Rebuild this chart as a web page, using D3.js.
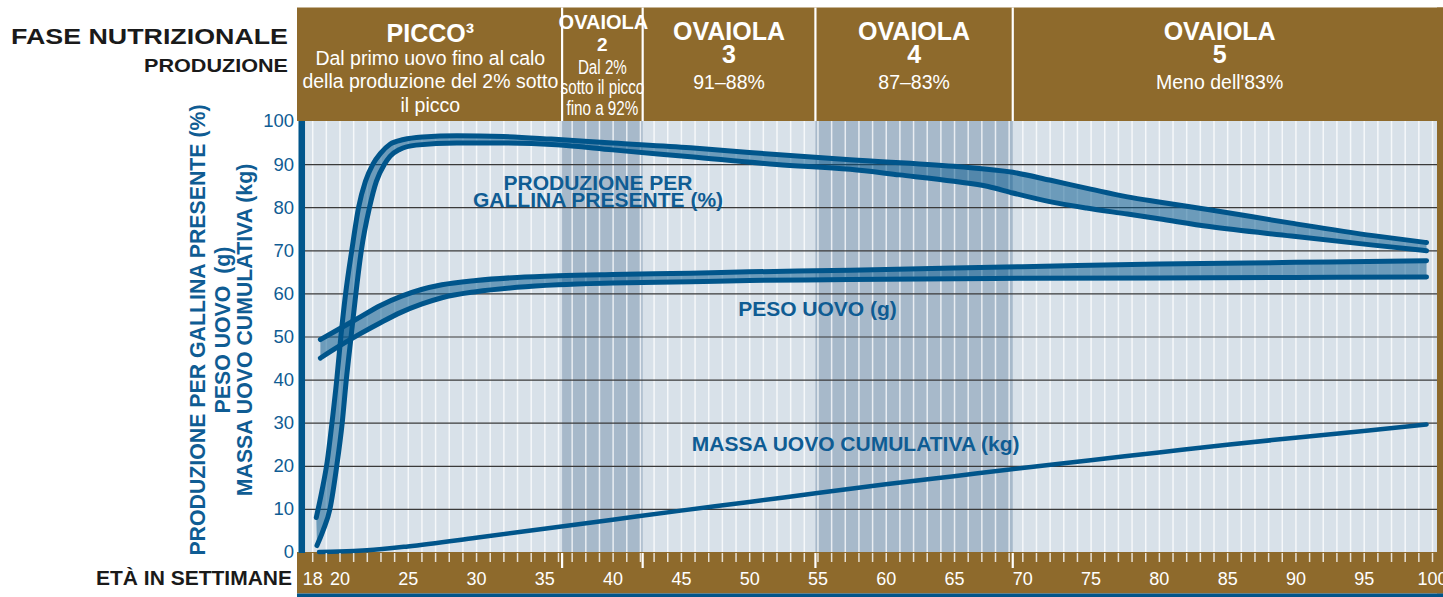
<!DOCTYPE html>
<html>
<head>
<meta charset="utf-8">
<script src="https://cdn.jsdelivr.net/npm/d3@7"></script>
<style>
  body { margin: 0; background: #fff; }
  svg { display: block; }
  text { font-family: "Liberation Sans", Arial, Helvetica, sans-serif; }
</style>
</head>
<body>
<svg id="chart" width="1443" height="597"></svg>
<script>
// ---------------- DATA ----------------
// Production per hen housed (%), upper and lower limits: [week, %]
const productionUpper = [[18.3,8],[18.7,14],[19.1,21],[19.45,30],[19.8,40],[20.1,50],[20.45,60],[20.9,70],[21.4,80],[21.9,86],[22.45,90],[23.0,92.5],[23.7,94.6],[24.7,95.7],[26.1,96.3],[28.6,96.6],[32,96.4],[35.5,95.8],[40,94.9],[45.7,93.8],[50,92.7],[57.4,91.0],[65,89.5],[69.3,88.1],[72,86.3],[75,84.2],[77.7,82.4],[80,81.2],[83.7,79.4],[89.7,76.3],[95.7,73.4],[99.6,71.8]];
const productionLower = [[18.35,1.5],[18.8,5],[19.3,10],[19.8,20],[20.2,30],[20.5,40],[20.85,50],[21.2,60],[21.6,70],[22.2,80],[22.7,86],[23.3,90],[23.7,91.8],[24.4,93.4],[25.6,94.4],[28.6,94.9],[32,94.9],[35.9,94.5],[40,93.3],[45.7,91.7],[52,89.9],[57.4,88.8],[61,87.5],[65,86],[67.5,84.8],[69.3,83.3],[72,81.3],[74.7,79.8],[77.7,78.4],[80,77.3],[83.7,75.5],[89.7,73.3],[95.7,71.2],[99.6,69.9]];
// Egg weight (g), upper and lower limits
const eggWeightUpper = [[18.6,49.3],[20,51.8],[21.5,54.5],[23,57.2],[24.5,59.3],[26,60.9],[27.5,62],[30,63],[33,63.7],[36,64.1],[40,64.4],[45.7,64.7],[50,65],[57.4,65.4],[65,65.9],[70,66.2],[80,66.8],[90,67.2],[99.6,67.6]];
const eggWeightLower = [[18.6,45],[20,47.8],[21.5,50.6],[23,53.2],[24.5,55.6],[26,57.5],[27.5,59],[30,60.4],[33,61.4],[36,62],[40,62.4],[45.7,62.7],[50,63],[57.4,63.2],[65,63.4],[70,63.5],[80,63.6],[90,63.7],[99.6,63.8]];
// Cumulative egg mass (kg)
const eggMass = [[18.5,0],[20,0.1],[22,0.4],[25,1.3],[30,3.3],[35,5.4],[40,7.5],[45,9.6],[50,11.6],[55,13.7],[60,15.7],[65,17.6],[70,19.5],[75,21.3],[80,23.1],[85,24.9],[90,26.5],[95,28.1],[99.6,29.6]];

// Axes
const xTickValues = [18,20,25,30,35,40,45,50,55,60,65,70,75,80,85,90,95,100];
const weekLines = d3.range(18, 101);
const yTickValues = [0,10,20,30,40,50,60,70,80,90,100];
const yGridValues = [10,20,30,40,50,60,70,80,90];

// Nutritional phases (week boundaries)
const phaseBounds = [17, 36.3, 42.2, 54.85, 69.3, 99.6];
const phaseTitles = ["PICCO³", "OVAIOLA", "OVAIOLA", "OVAIOLA", "OVAIOLA"];
const phaseNumbers = ["", "2", "3", "4", "5"];
const phaseDescriptions = [
  ["Dal primo uovo fino al calo", "della produzione del 2% sotto", "il picco"],
  ["Dal 2%", "sotto il picco", "fino a 92%"],
  ["91–88%"],
  ["87–83%"],
  ["Meno dell'83%"]
];
const shadedPhases = [1, 3];

// Text labels
const leftTitle1 = "FASE NUTRIZIONALE";
const leftTitle2 = "PRODUZIONE";
const xAxisTitle = "ETÀ IN SETTIMANE";
const yAxisTitles = ["PRODUZIONE PER GALLINA PRESENTE (%)", "PESO UOVO  (g)", "MASSA UOVO CUMULATIVA (kg)"];
const curveLabels = [
  ["PRODUZIONE PER", "GALLINA PRESENTE (%)"],
  ["PESO UOVO (g)"],
  ["MASSA UOVO CUMULATIVA (kg)"]
];

// ---------------- LAYOUT / STYLE ----------------
const W = 1443, H = 597;
const plotTop = 121, plotBottom = 552, plotRight = 1437, frameLeft = 297;
const brown = "#8e6a2c", blue = "#00558b", textBlue = "#0f5c93";
const lightBg = "#d8e1e9", darkBg = "#a7b9ca";

const x = d3.scaleLinear().domain([20, 100]).range([339.5, 1432]);
const y = d3.scaleLinear().domain([0, 100]).range([plotBottom, plotTop]);
const plotLeft = x(17);

const svg = d3.select("#chart");

// frames
svg.append("rect").attr("x", frameLeft).attr("y", 7.5).attr("width", W - frameLeft).attr("height", plotTop - 7.5).attr("fill", brown);
svg.append("rect").attr("x", frameLeft).attr("y", plotBottom).attr("width", W - frameLeft).attr("height", 593.5 - plotBottom).attr("fill", brown);
svg.append("rect").attr("x", plotRight).attr("y", 7.5).attr("width", W - plotRight).attr("height", 593.5 - 7.5).attr("fill", brown);
svg.append("rect").attr("x", frameLeft).attr("y", 593.5).attr("width", W - frameLeft).attr("height", 3.5).attr("fill", blue);

// plot background
svg.append("rect").attr("x", plotLeft).attr("y", plotTop).attr("width", plotRight - plotLeft).attr("height", plotBottom - plotTop).attr("fill", lightBg);
shadedPhases.forEach(i => {
  svg.append("rect").attr("x", x(phaseBounds[i])).attr("y", plotTop)
    .attr("width", x(phaseBounds[i + 1]) - x(phaseBounds[i])).attr("height", plotBottom - plotTop).attr("fill", darkBg);
});

// weekly white lines
svg.append("g").attr("transform", `translate(0,${plotBottom})`)
  .call(d3.axisBottom(x).tickValues(weekLines).tickSize(-(plotBottom - plotTop)).tickFormat(""))
  .call(g => g.select(".domain").remove())
  .selectAll("line").attr("stroke", "#fff").attr("stroke-opacity", 0.75).attr("stroke-width", 1.5);

// horizontal grid
svg.append("g").attr("transform", `translate(305,0)`)
  .call(d3.axisLeft(y).tickValues(yGridValues).tickSize(-(plotRight - 305)).tickFormat(""))
  .call(g => g.select(".domain").remove())
  .selectAll("line").attr("stroke", "#3a3a3a").attr("stroke-width", 1.2);

// bands
const line = d3.line().x(d => x(d[0])).y(d => y(d[1])).curve(d3.curveMonotoneX);
function bandPath(upper, lower) {
  const a = line(upper);
  const b = line(lower.slice().reverse());
  return a + "L" + b.slice(1) + "Z";
}
function drawBand(upper, lower) {
  svg.append("path").attr("d", bandPath(upper, lower)).attr("fill", blue).attr("fill-opacity", 0.5);
  [upper, lower].forEach(s => {
    svg.append("path").attr("d", line(s)).attr("fill", "none").attr("stroke", blue)
      .attr("stroke-width", 5).attr("stroke-linecap", "round").attr("stroke-linejoin", "round");
  });
}
drawBand(eggWeightUpper, eggWeightLower);
drawBand(productionUpper, productionLower);
svg.append("path").attr("d", line(eggMass)).attr("fill", "none").attr("stroke", blue)
  .attr("stroke-width", 4.5).attr("stroke-linecap", "round");

// left blue bar
svg.append("rect").attr("x", plotLeft).attr("y", plotTop).attr("width", 6.5).attr("height", plotBottom - plotTop + 1).attr("fill", blue);

// bottom week ticks
svg.append("g").attr("transform", `translate(0,${plotBottom + 1})`)
  .call(d3.axisBottom(x).tickValues(weekLines).tickSize(9).tickFormat(""))
  .call(g => g.select(".domain").remove())
  .selectAll("line").attr("stroke", "#fff").attr("stroke-opacity", 0.8).attr("stroke-width", 1.5);

// x tick labels
svg.append("g").attr("transform", `translate(0,572)`)
  .call(d3.axisBottom(x).tickValues(xTickValues).tickSize(0).tickPadding(0))
  .call(g => g.select(".domain").remove())
  .selectAll("text").attr("fill", "#fff").style("font-size", "18px").style("font-family", "'Liberation Sans', Arial, sans-serif");

// y tick labels
svg.append("g").attr("transform", `translate(294,0)`)
  .call(d3.axisLeft(y).tickValues(yTickValues).tickSize(0).tickPadding(0))
  .call(g => g.select(".domain").remove())
  .selectAll("text").attr("fill", textBlue).style("font-size", "18.5px").style("font-family", "'Liberation Sans', Arial, sans-serif");

// phase dividers
phaseBounds.slice(1, -1).forEach(b => {
  svg.append("line").attr("x1", x(b)).attr("x2", x(b)).attr("y1", 7.5).attr("y2", plotTop).attr("stroke", "#fff").attr("stroke-width", 2.2);
  svg.append("line").attr("x1", x(b)).attr("x2", x(b)).attr("y1", plotBottom + 1).attr("y2", 568).attr("stroke", "#fff").attr("stroke-width", 2.2);
});

// text helper
function txt(str, cx, yb, size, weight, fill, opts = {}) {
  const g = svg.append("g").attr("transform", `translate(${cx},${yb}) scale(${opts.sx || 1},1)`);
  const t = g.append("text").attr("text-anchor", opts.anchor || "middle").attr("fill", fill)
    .style("font-size", size + "px").style("font-weight", weight).style("white-space", "pre").text(str);
  if (opts.len) t.attr("textLength", opts.len).attr("lengthAdjust", "spacingAndGlyphs");
  return t;
}

// phase headers
phaseTitles.forEach((title, i) => {
  const cx = (x(phaseBounds[i]) + x(phaseBounds[i + 1])) / 2;
  if (i === 0) {
    txt(title, cx, 42, 25, "bold", "#fff");
    phaseDescriptions[i].forEach((d, k) => txt(d, cx, 65 + k * 23.3, 19.5, "normal", "#fff"));
  } else if (i === 1) {
    txt(title, cx + 1, 28.5, 20, "bold", "#fff");
    txt(phaseNumbers[i], cx, 50.5, 19, "bold", "#fff");
    [74, 94, 115].forEach((yb, k) => txt(phaseDescriptions[i][k], cx, yb, 19.5, "normal", "#fff", { sx: 0.78 }));
  } else {
    txt(title, cx, 40, 25, "bold", "#fff");
    txt(phaseNumbers[i], cx, 63, 25, "bold", "#fff");
    txt(phaseDescriptions[i][0], cx, 89, 19.5, "normal", "#fff");
  }
});

// left titles
txt(leftTitle1, 288, 43.5, 22, "bold", "#1a1a1a", { anchor: "end", len: 277 });
txt(leftTitle2, 288, 72, 19, "bold", "#1a1a1a", { anchor: "end", len: 144 });
txt(xAxisTitle, 292, 585, 21, "bold", "#1a1a1a", { anchor: "end" });

// y axis titles (rotated)
[205, 229.5, 252].forEach((xb, k) => {
  svg.append("text").attr("transform", `translate(${xb},330) rotate(-90)`).attr("text-anchor", "middle")
    .attr("fill", textBlue).style("font-size", "21.3px").style("font-weight", "bold").style("white-space", "pre")
    .text(yAxisTitles[k]);
});

// curve labels
const curveLabelPos = [[38.93, 84], [55.0, 54.75], [57.8, 23.4]];
curveLabels.forEach((lines, k) => {
  lines.forEach((l, j) => {
    txt(l, x(curveLabelPos[k][0]), y(curveLabelPos[k][1]) + j * 17, 21, "bold", textBlue);
  });
});
</script>
</body>
</html>
